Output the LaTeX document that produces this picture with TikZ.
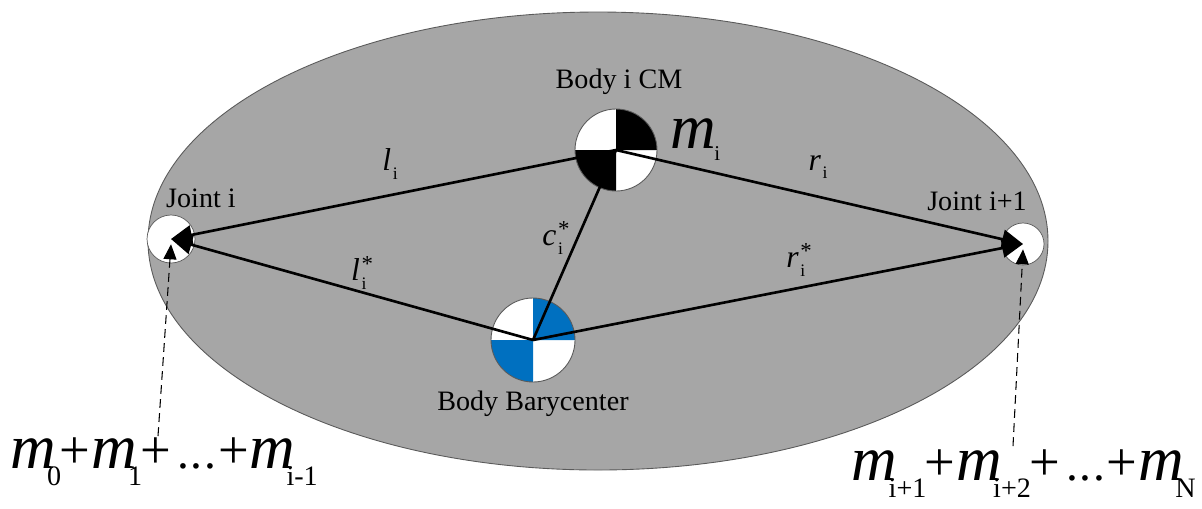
\documentclass[tikz,border=0pt]{standalone}
\usepackage{fontspec}
\setmainfont{Liberation Serif}
\usetikzlibrary{arrows.meta}

\definecolor{bodygray}{HTML}{A6A6A6}
\definecolor{rimgray}{HTML}{5A5A5A}
\definecolor{cmblue}{HTML}{0070C0}

% large italic mass symbol with an upright subscript
\newcommand\massM{{\fontsize{36}{36}\selectfont\itshape m}}
\newcommand\massSub[1]{\kern-5pt\raisebox{-10pt}{\fontsize{16}{16}\selectfont #1}}
\newcommand\plusSign{\kern-1pt{\fontsize{31}{31}\selectfont +}\kern0.5pt}
\newcommand\dotsSign{\kern3pt{\fontsize{27}{27}\selectfont .\kern1pt.\kern1pt.}\kern2pt}
% small vector labels
\newcommand\vecLabel[2]{{\fontsize{18}{18}\selectfont\itshape #1}\kern1pt\raisebox{-5pt}{\fontsize{10}{10}\selectfont #2}}
\newcommand\vecLabelStar[2]{{\fontsize{18}{18}\selectfont\itshape #1}\kern1pt\rlap{\raisebox{-5.5pt}{\fontsize{10}{10}\selectfont #2}}\raisebox{5pt}{\fontsize{13}{13}\selectfont *}}

\begin{document}
\begin{tikzpicture}[x=0.02cm,y=-0.02cm,
  vec/.style={line width=1.5pt,-{Triangle[length=0.42cm,width=0.38cm]}},
  bar/.style={line width=1.5pt},
  dashvec/.style={line width=0.6pt,dash pattern=on 5pt off 3pt,-{Triangle[length=0.3cm,width=0.26cm]}},
  jointc/.style={circle,draw=rimgray,line width=0.4pt,fill=white,inner sep=0pt},
  lbl/.style={font=\fontsize{16}{16}\selectfont,inner sep=0pt}]
\useasboundingbox (0,0) rectangle (1202,508);

% rigid body
\draw[draw=rimgray,fill=bodygray,line width=0.5pt] (598,241) ellipse [x radius=450,y radius=229];

% joints
\node[jointc,minimum size=0.96cm] (J1) at (171,239) {};
\node[jointc,minimum size=0.84cm] (J2) at (1023,244) {};

% body i centre of mass marker
\coordinate (CM) at (616,150);
\fill[white] (CM) circle (41);
\fill[black] (CM) -- ++(0:41) arc (0:-90:41) -- cycle;
\fill[black] (CM) -- ++(90:41) arc (90:180:41) -- cycle;
\draw[rimgray,line width=0.5pt] (CM) circle (41);

% body barycenter marker
\coordinate (BB) at (533,340);
\fill[white] (BB) circle (42);
\fill[cmblue] (BB) -- ++(0:42) arc (0:-90:42) -- cycle;
\fill[cmblue] (BB) -- ++(90:42) arc (90:180:42) -- cycle;
\draw[rimgray,line width=0.5pt] (BB) circle (42);

% vectors
\draw[vec] (CM) -- (J1.center);
\draw[vec] (BB) -- (J1.center);
\draw[vec] (CM) -- (J2.center);
\draw[vec] (BB) -- (J2.center);
\draw[bar] (BB) -- (CM);

% lumped mass pointers
\coordinate (ML) at (158,436);
\coordinate (MR) at (1013,446);
\draw[dashvec] (ML) -- ([yshift=-3]J1.center);
\draw[dashvec] (MR) -- ([yshift=-3]J2.center);

% vector labels
\node[inner sep=0pt] (li) at (390,164) {\vecLabel{l}{i}};
\node[inner sep=0pt] (lis) at (362,273) {\vecLabelStar{l}{i}};
\node[inner sep=0pt] (ri) at (818,167) {\vecLabel{r}{i}};
\node[inner sep=0pt] (ris) at (799,260) {\vecLabelStar{r}{i}};
\node[inner sep=0pt] (cis) at (556,238) {\vecLabelStar{c}{i}};

% point labels
\node[lbl,anchor=base] (cmtxt) at (619,88) {Body i CM};
\node[lbl,anchor=base] (j1txt) at (201,207) {Joint i};
\node[lbl,anchor=base] (j2txt) at (977,210) {Joint i+1};
\node[lbl,anchor=base] (bbtxt) at (533,410) {Body Barycenter};

% masses
\node[inner sep=0pt,anchor=base west] (mi) at (670,148)
  {\massM\kern-1pt\raisebox{-7pt}{\fontsize{12}{12}\selectfont i}};
\node[inner sep=0pt,anchor=base west] (mleft) at (10,468)
  {\massM\massSub{0}\plusSign\massM\massSub{1}\plusSign\dotsSign\plusSign\massM\massSub{i-1}};
\node[inner sep=0pt,anchor=base east] (mright) at (1196,480)
  {\massM\massSub{i+1}\plusSign\massM\massSub{i+2}\plusSign\dotsSign\plusSign\massM\massSub{N}};
\end{tikzpicture}
\end{document}
